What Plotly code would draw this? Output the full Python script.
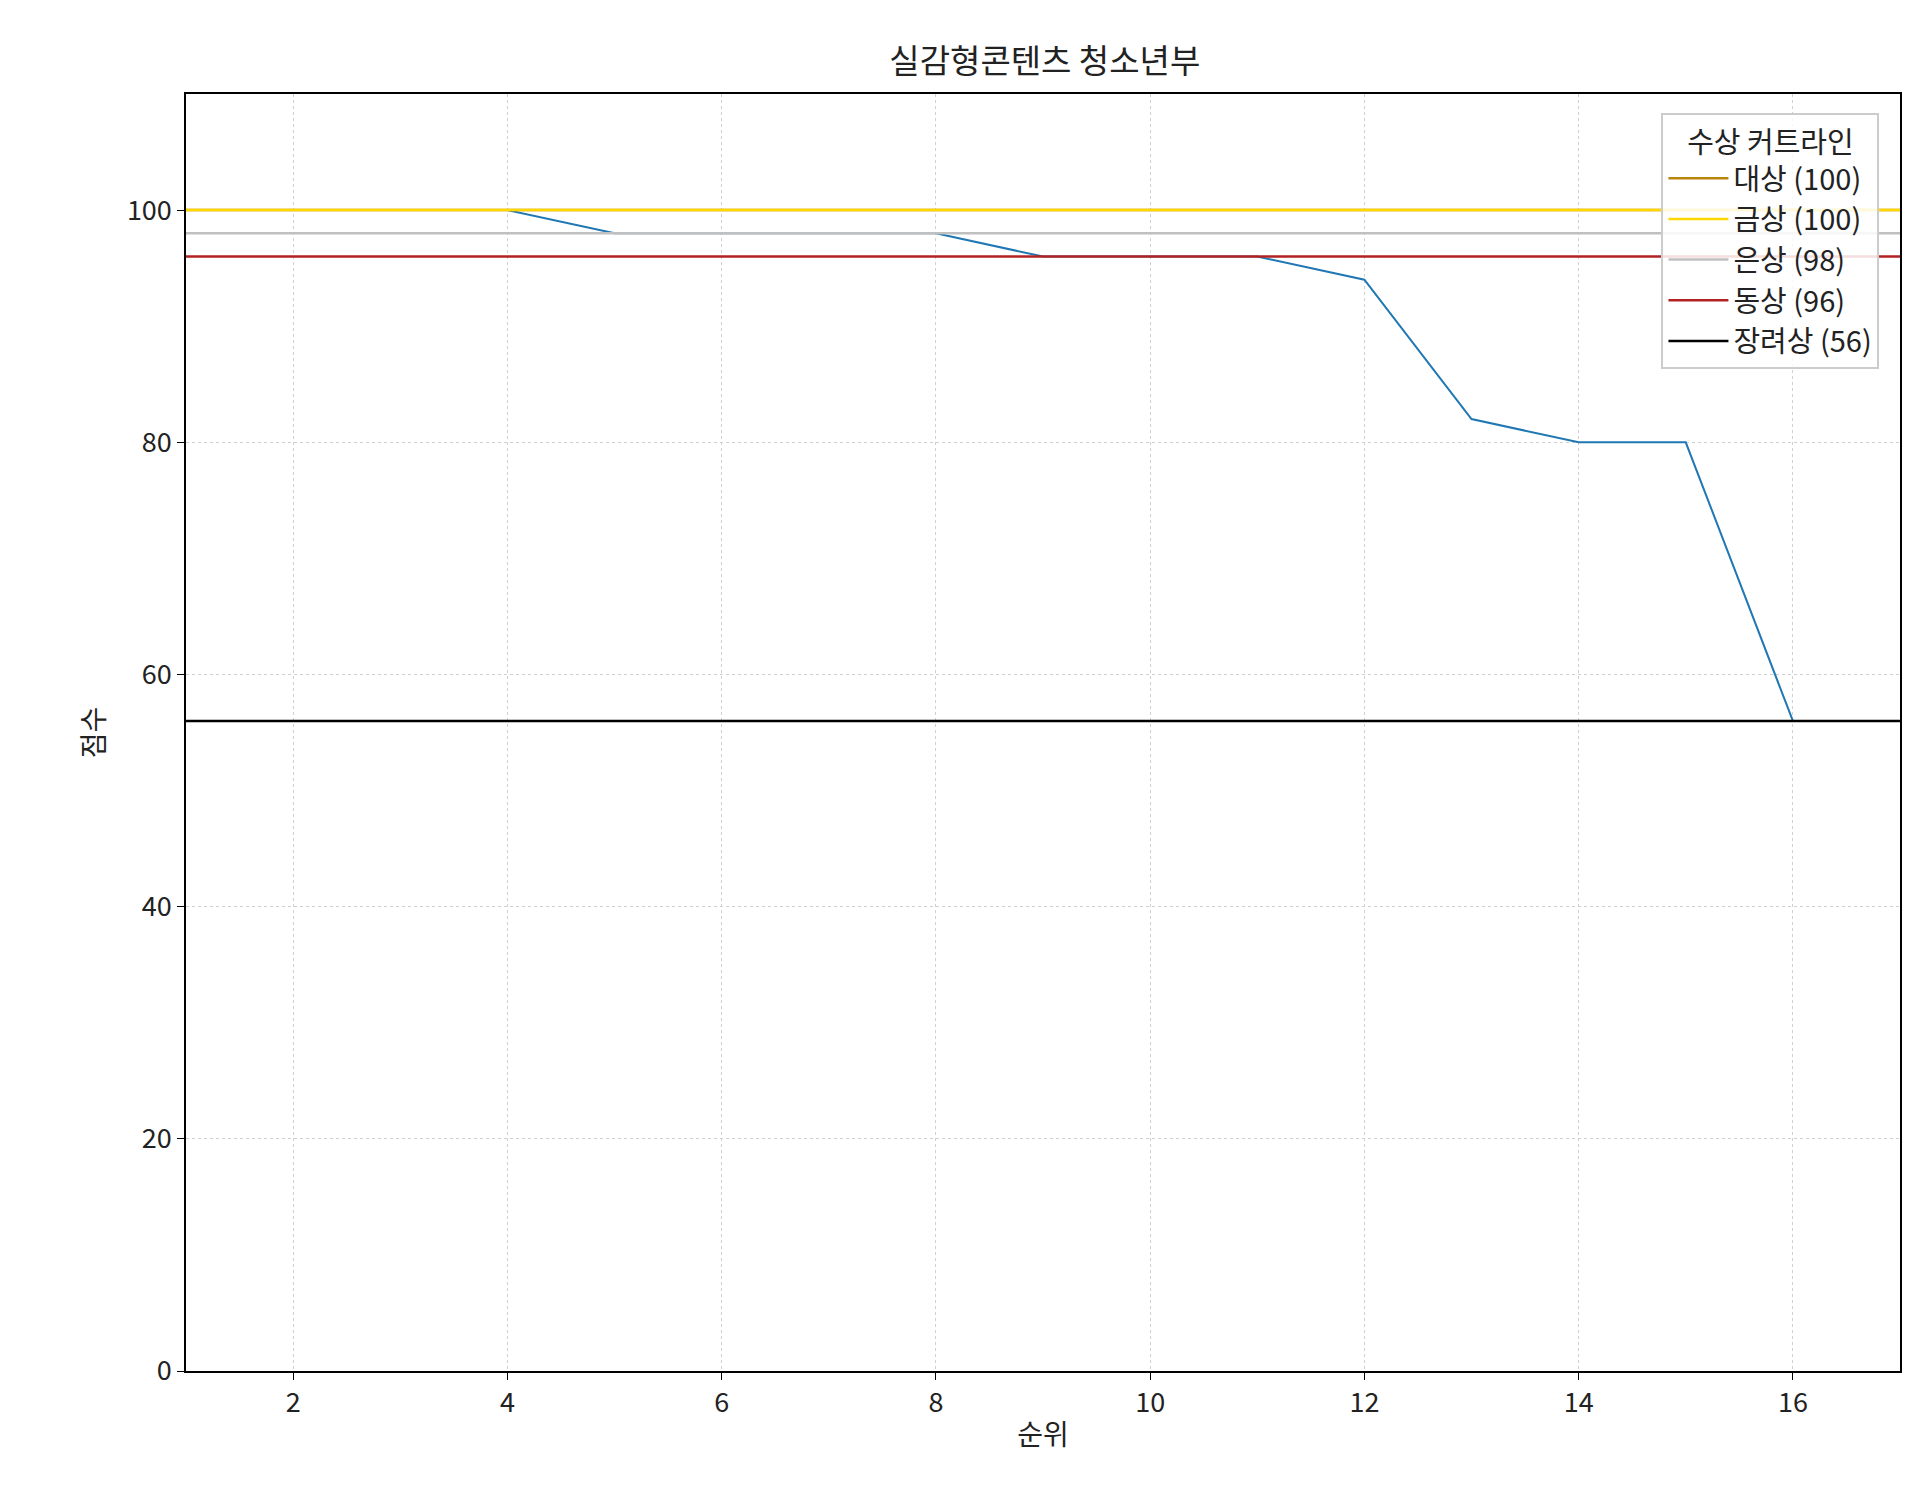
import plotly.graph_objects as go

ranks = list(range(1, 17))
scores = [100, 100, 100, 100, 98, 98, 98, 98, 96, 96, 96, 94, 82, 80, 80, 56]
cut_names = ["대상 (100)", "금상 (100)", "은상 (98)", "동상 (96)", "장려상 (56)"]
cut_values = [100, 100, 98, 96, 56]
cut_colors = ["#b8860b", "#ffd700", "#c0c0c0", "#b22222", "#000000"]

font = "Noto Sans CJK KR"
fig = go.Figure()
fig.add_trace(go.Scatter(x=ranks, y=scores, mode="lines", line=dict(color="#1f77b4", width=2), showlegend=False))
for n, v, c in zip(cut_names, cut_values, cut_colors):
    fig.add_trace(go.Scatter(x=[1, 17], y=[v, v], mode="lines", name=n, line=dict(color=c, width=2.5)))

ax = dict(showline=True, linecolor="black", linewidth=1.5, mirror=True, ticks="outside",
          ticklen=7, tickcolor="black", showgrid=True, gridcolor="#d0d0d0", griddash="dot",
          zeroline=False, tickfont=dict(size=27, color="#222"))
fig.update_layout(
    width=1920, height=1508, plot_bgcolor="white", paper_bgcolor="white",
    font=dict(family=font, color="#222"),
    margin=dict(l=178, r=28, t=86, b=145),
    title=dict(text="실감형콘텐츠 청소년부", x=0.54, xanchor="center", y=0.972, font=dict(size=33)),
    xaxis=dict(range=[1, 17], tickvals=[2, 4, 6, 8, 10, 12, 14, 16], title=dict(text="순위", font=dict(size=28), standoff=6), **ax),
    yaxis=dict(range=[0, 110], tickvals=[0, 20, 40, 60, 80, 100], title=dict(text="점수", font=dict(size=28), standoff=14), **ax),
    legend=dict(x=0.988, y=0.985, xanchor="right", yanchor="top", bordercolor="#cccccc", borderwidth=2,
                bgcolor="rgba(255,255,255,0.85)", font=dict(size=29), itemwidth=60, tracegroupgap=4,
                title=dict(text="수상 커트라인", side="top center", font=dict(size=29))),
)
fig.write_html("out.html")
